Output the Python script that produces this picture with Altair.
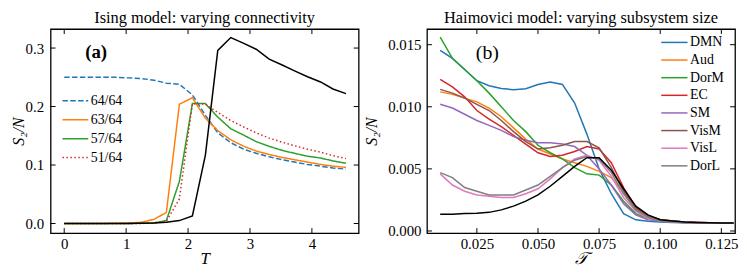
import altair as alt
import pandas as pd

# ---------------- data: left panel (Ising) ----------------
T = [0.0, 0.21, 0.41, 0.62, 0.83, 1.03, 1.24, 1.45, 1.65, 1.86, 2.07, 2.28,
     2.48, 2.69, 2.90, 3.10, 3.31, 3.52, 3.72, 3.93, 4.14, 4.34, 4.55]
ising_labels = ["64/64", "63/64", "57/64", "51/64"]
s_64 = [0.250, 0.250, 0.250, 0.250, 0.250, 0.249, 0.248, 0.245, 0.240, 0.238, 0.220, 0.185,
        0.155, 0.138, 0.127, 0.120, 0.114, 0.109, 0.105, 0.101, 0.098, 0.095, 0.093]
s_63 = [0.0, 0.0, 0.0, 0.0, 0.0005, 0.001, 0.002, 0.007, 0.019, 0.204, 0.215, 0.180,
        0.159, 0.143, 0.132, 0.124, 0.118, 0.113, 0.109, 0.105, 0.101, 0.098, 0.096]
s_57 = [0.0, 0.0, 0.0, 0.0, 0.0, 0.0, 0.0005, 0.001, 0.005, 0.072, 0.205, 0.205,
        0.182, 0.162, 0.151, 0.140, 0.132, 0.125, 0.120, 0.115, 0.112, 0.107, 0.103]
s_51 = [0.0, 0.0, 0.0, 0.0, 0.0, 0.0, 0.0, 0.001, 0.004, 0.042, 0.205, 0.204,
        0.190, 0.176, 0.165, 0.155, 0.146, 0.139, 0.133, 0.127, 0.122, 0.116, 0.111]
s_full = [0.0, 0.0, 0.0, 0.0, 0.0, 0.0, 0.0005, 0.001, 0.002, 0.005, 0.013, 0.117,
          0.296, 0.318, 0.308, 0.298, 0.281, 0.271, 0.261, 0.251, 0.242, 0.230, 0.222]
ising_series = [s_64, s_63, s_57, s_51]

# ---------------- data: right panel (Haimovici) ----------------
TAU = [0.010, 0.015, 0.020, 0.025, 0.030, 0.035, 0.040, 0.045, 0.050, 0.055, 0.060, 0.065,
       0.070, 0.075, 0.080, 0.085, 0.090, 0.095, 0.100, 0.105, 0.110, 0.115, 0.120, 0.125, 0.130]
haim_labels = ["DMN", "Aud", "DorM", "EC", "SM", "VisM", "VisL", "DorL"]
h_dmn = [0.01455, 0.0139, 0.0130, 0.0121, 0.0117, 0.01147, 0.01138, 0.01145, 0.0118, 0.0120, 0.0118, 0.0103,
         0.0078, 0.0050, 0.0030, 0.0014, 0.0009, 0.00078, 0.00072, 0.00069, 0.00067, 0.00065, 0.00064, 0.00064, 0.00063]
h_aud = [0.0112, 0.0110, 0.0107, 0.0104, 0.0099, 0.0092, 0.0083, 0.0074, 0.0066, 0.0062, 0.0058, 0.0055,
         0.0052, 0.0048, 0.0043, 0.0031, 0.0019, 0.0012, 0.0009, 0.0008, 0.00072, 0.00068, 0.00066, 0.00065, 0.00064]
h_dorm = [0.0156, 0.0139, 0.0130, 0.0121, 0.0111, 0.0100, 0.0089, 0.0080, 0.0069, 0.0063, 0.0058, 0.0051,
          0.0046, 0.0045, 0.0037, 0.0024, 0.0014, 0.0010, 0.0008, 0.00072, 0.00068, 0.00066, 0.00065, 0.00064, 0.00064]
h_ec = [0.0122, 0.0116, 0.0108, 0.0097, 0.0090, 0.0084, 0.0077, 0.0070, 0.0063, 0.0060, 0.0061, 0.0064,
        0.0068, 0.0066, 0.0055, 0.0035, 0.0019, 0.0012, 0.0009, 0.0008, 0.00072, 0.00068, 0.00066, 0.00065, 0.00064]
h_sm = [0.0102, 0.0099, 0.0094, 0.0089, 0.0085, 0.0081, 0.0076, 0.0073, 0.0071, 0.0071, 0.0070, 0.0068,
        0.0061, 0.0050, 0.0037, 0.0022, 0.0013, 0.0009, 0.0008, 0.00072, 0.00068, 0.00066, 0.00065, 0.00064, 0.00064]
h_vism = [0.0114, 0.0111, 0.0107, 0.0102, 0.0097, 0.0089, 0.0080, 0.0072, 0.0066, 0.0067, 0.0069, 0.0072,
          0.0072, 0.0067, 0.0051, 0.0032, 0.0018, 0.0012, 0.0009, 0.0008, 0.00072, 0.00068, 0.00066, 0.00065, 0.00064]
h_visl = [0.0046, 0.0037, 0.0032, 0.0029, 0.0028, 0.0027, 0.0027, 0.0030, 0.0034, 0.0042, 0.0051, 0.0058,
          0.0061, 0.0057, 0.0044, 0.0027, 0.0016, 0.0010, 0.0008, 0.00072, 0.00068, 0.00066, 0.00065, 0.00064, 0.00064]
h_dorl = [0.0047, 0.0043, 0.0035, 0.0032, 0.0029, 0.0029, 0.0029, 0.0033, 0.0037, 0.0044, 0.0051, 0.0057,
          0.0060, 0.0058, 0.0047, 0.0030, 0.0017, 0.0011, 0.0008, 0.00072, 0.00068, 0.00066, 0.00065, 0.00064, 0.00064]
h_full = [0.00135, 0.00135, 0.0014, 0.00142, 0.0015, 0.0017, 0.0020, 0.0024, 0.0029, 0.0036, 0.0044, 0.0052,
          0.0059, 0.0059, 0.0049, 0.0034, 0.0020, 0.0013, 0.0009, 0.0008, 0.00072, 0.00068, 0.00066, 0.00065, 0.00064]
haim_series = [h_dmn, h_aud, h_dorm, h_ec, h_sm, h_vism, h_visl, h_dorl]

left_xticks = [0, 1, 2, 3, 4]
left_yticks = [0.0, 0.1, 0.2, 0.3]
right_xticks = [0.025, 0.050, 0.075, 0.100, 0.125]
right_yticks = [0.000, 0.005, 0.010, 0.015]

TAB10 = ["#1f77b4", "#ff7f0e", "#2ca02c", "#d62728", "#9467bd", "#8c564b", "#e377c2", "#7f7f7f"]

# ---------------- styling ----------------
W, H = 311, 206
FONT = "Liberation Serif"
TICK = 5
LW = 1.5


def long_df(x, labels, series, xname, yname):
    rows = []
    for lab, vals in zip(labels, series):
        for xv, yv in zip(x, vals):
            rows.append({xname: xv, yname: yv, "series": lab})
    return pd.DataFrame(rows)


def axis_x(values, fmt, title):
    return alt.Axis(values=values, format=fmt, title=title, ticks=False, domain=False, grid=False,
                    labelFont=FONT, labelFontSize=15, labelColor="black", labelPadding=4,
                    titleFont=FONT, titleFontSize=17, titleFontStyle="italic", titleFontWeight="normal",
                    titleColor="black", titleY=26, titleBaseline="middle")


def axis_y(values, fmt, title, title_x, pad):
    return alt.Axis(values=values, format=fmt, title=title, ticks=False, domain=False, grid=False,
                    labelFont=FONT, labelFontSize=15, labelColor="black", labelPadding=pad,
                    titleFont=FONT, titleFontSize=16, titleFontStyle="italic", titleFontWeight="normal",
                    titleColor="black", titleX=title_x, titleY=H / 2, titleAngle=-90,
                    titleAlign="center", titleBaseline="middle")


def tick_layers(xticks, yticks, xscale, yscale, xaxis, yaxis):
    dx = pd.DataFrame({"v": xticks})
    dy = pd.DataFrame({"v": yticks})
    xenc = alt.X("v:Q", scale=xscale, axis=xaxis)
    yenc = alt.Y("v:Q", scale=yscale, axis=yaxis)
    rx_ = alt.Chart(dx).mark_rule(color="black", strokeWidth=1)
    ry_ = alt.Chart(dy).mark_rule(color="black", strokeWidth=1)
    return [
        rx_.encode(x=xenc, y=alt.value(H), y2=alt.value(H - TICK)),
        rx_.encode(x=xenc, y=alt.value(0), y2=alt.value(TICK)),
        ry_.encode(y=yenc, x=alt.value(0), x2=alt.value(TICK)),
        ry_.encode(y=yenc, x=alt.value(W - TICK), x2=alt.value(W)),
    ]


def legend_layers(labels, color_scale, dash_scale, x0, x1, y0, step):
    df = pd.DataFrame({"series": labels, "row": list(range(len(labels)))})
    off = alt.YOffset("row:Q", scale=alt.Scale(domain=[0, 1], range=[0, step]))
    enc = dict(color=alt.Color("series:N", scale=color_scale, legend=None))
    if dash_scale is not None:
        enc["strokeDash"] = alt.StrokeDash("series:N", scale=dash_scale, legend=None)
    lines = alt.Chart(df).mark_rule(strokeWidth=LW).encode(
        x=alt.value(x0), x2=alt.value(x1), y=alt.value(y0), yOffset=off, **enc)
    texts = alt.Chart(df).mark_text(font=FONT, fontSize=14, color="black", align="left",
                                    baseline="middle", dx=0).encode(
        text="series:N", x=alt.value(x1 + 2.5), y=alt.value(y0), yOffset=off)
    return [lines, texts]


# ---------------- left panel ----------------
lx = alt.Scale(domain=[-0.22, 4.755], nice=False, zero=False)
ly = alt.Scale(domain=[-0.0164, 0.3325], nice=False, zero=False)
l_xaxis = axis_x(left_xticks, "d", "T")
l_yaxis = axis_y(left_yticks, ".1f", "S₂/N", -32, 7)
l_color = alt.Scale(domain=ising_labels, range=TAB10[:4])
l_dash = alt.Scale(domain=ising_labels, range=[[5.5, 2.4], [1, 0], [1, 0], [1.5, 2.5]])
ising_df = long_df(T, ising_labels, ising_series, "T", "S")
ising_black = pd.DataFrame({"T": T, "S": s_full})

left_lines = alt.Chart(ising_df).mark_line(strokeWidth=LW).encode(
    x=alt.X("T:Q", scale=lx, axis=l_xaxis),
    y=alt.Y("S:Q", scale=ly, axis=l_yaxis),
    color=alt.Color("series:N", scale=l_color, legend=None),
    strokeDash=alt.StrokeDash("series:N", scale=l_dash, legend=None),
    order=alt.Order("T:Q"),
)
left_black = alt.Chart(ising_black).mark_line(strokeWidth=LW, color="black").encode(
    x=alt.X("T:Q", scale=lx, axis=l_xaxis), y=alt.Y("S:Q", scale=ly, axis=l_yaxis))
left_label = alt.Chart(pd.DataFrame({"t": ["(a)"]})).mark_text(
    font=FONT, fontSize=19, fontWeight="bold", color="black", align="center", baseline="middle").encode(
    text="t:N", x=alt.value(46), y=alt.value(23.5))

TITLE_KW = dict(font=FONT, fontSize=16.5, fontWeight="normal", color="black", anchor="middle", offset=2)

left = alt.layer(
    left_lines, left_black,
    *tick_layers(left_xticks, left_yticks, lx, ly, l_xaxis, l_yaxis),
    *legend_layers(ising_labels, l_color, l_dash, 12, 38, 72.5, 19.1),
    left_label,
).resolve_scale(yOffset="independent").properties(
    width=W, height=H,
    title=alt.TitleParams("Ising model: varying connectivity", **TITLE_KW))

# ---------------- right panel ----------------
rxs = alt.Scale(domain=[0.0046, 0.1306], nice=False, zero=False)
rys = alt.Scale(domain=[-0.00017, 0.01626], nice=False, zero=False)
r_xaxis = axis_x(right_xticks, ".3f", "𝒯")
r_yaxis = axis_y(right_yticks, ".3f", "S₂/N", -56, 6)
r_color = alt.Scale(domain=haim_labels, range=TAB10)
haim_df = long_df(TAU, haim_labels, haim_series, "tau", "S")
haim_black = pd.DataFrame({"tau": TAU, "S": h_full})

right_lines = alt.Chart(haim_df).mark_line(strokeWidth=LW).encode(
    x=alt.X("tau:Q", scale=rxs, axis=r_xaxis),
    y=alt.Y("S:Q", scale=rys, axis=r_yaxis),
    color=alt.Color("series:N", scale=r_color, legend=None),
    order=alt.Order("tau:Q"),
)
right_black = alt.Chart(haim_black).mark_line(strokeWidth=LW, color="black").encode(
    x=alt.X("tau:Q", scale=rxs, axis=r_xaxis), y=alt.Y("S:Q", scale=rys, axis=r_yaxis))
right_label = alt.Chart(pd.DataFrame({"t": ["(b)"]})).mark_text(
    font=FONT, fontSize=20, color="black", align="center", baseline="middle").encode(
    text="t:N", x=alt.value(61), y=alt.value(24.5))

right = alt.layer(
    right_lines, right_black,
    *tick_layers(right_xticks, right_yticks, rxs, rys, r_xaxis, r_yaxis),
    *legend_layers(haim_labels, r_color, None, 236.5, 263, 13.5, 17.8),
    right_label,
).properties(
    width=W, height=H,
    title=alt.TitleParams("Haimovici model: varying subsystem size", **TITLE_KW))

chart = alt.hconcat(left, right, spacing=2).resolve_scale(
    color="independent", strokeDash="independent", x="independent", y="independent",
    yOffset="independent"
).configure_view(
    stroke="black", strokeWidth=1.3
).properties(padding={"left": 2, "top": 0, "right": 0, "bottom": 0})

chart.save("out.html", embed_options={"renderer": "svg", "actions": False})
